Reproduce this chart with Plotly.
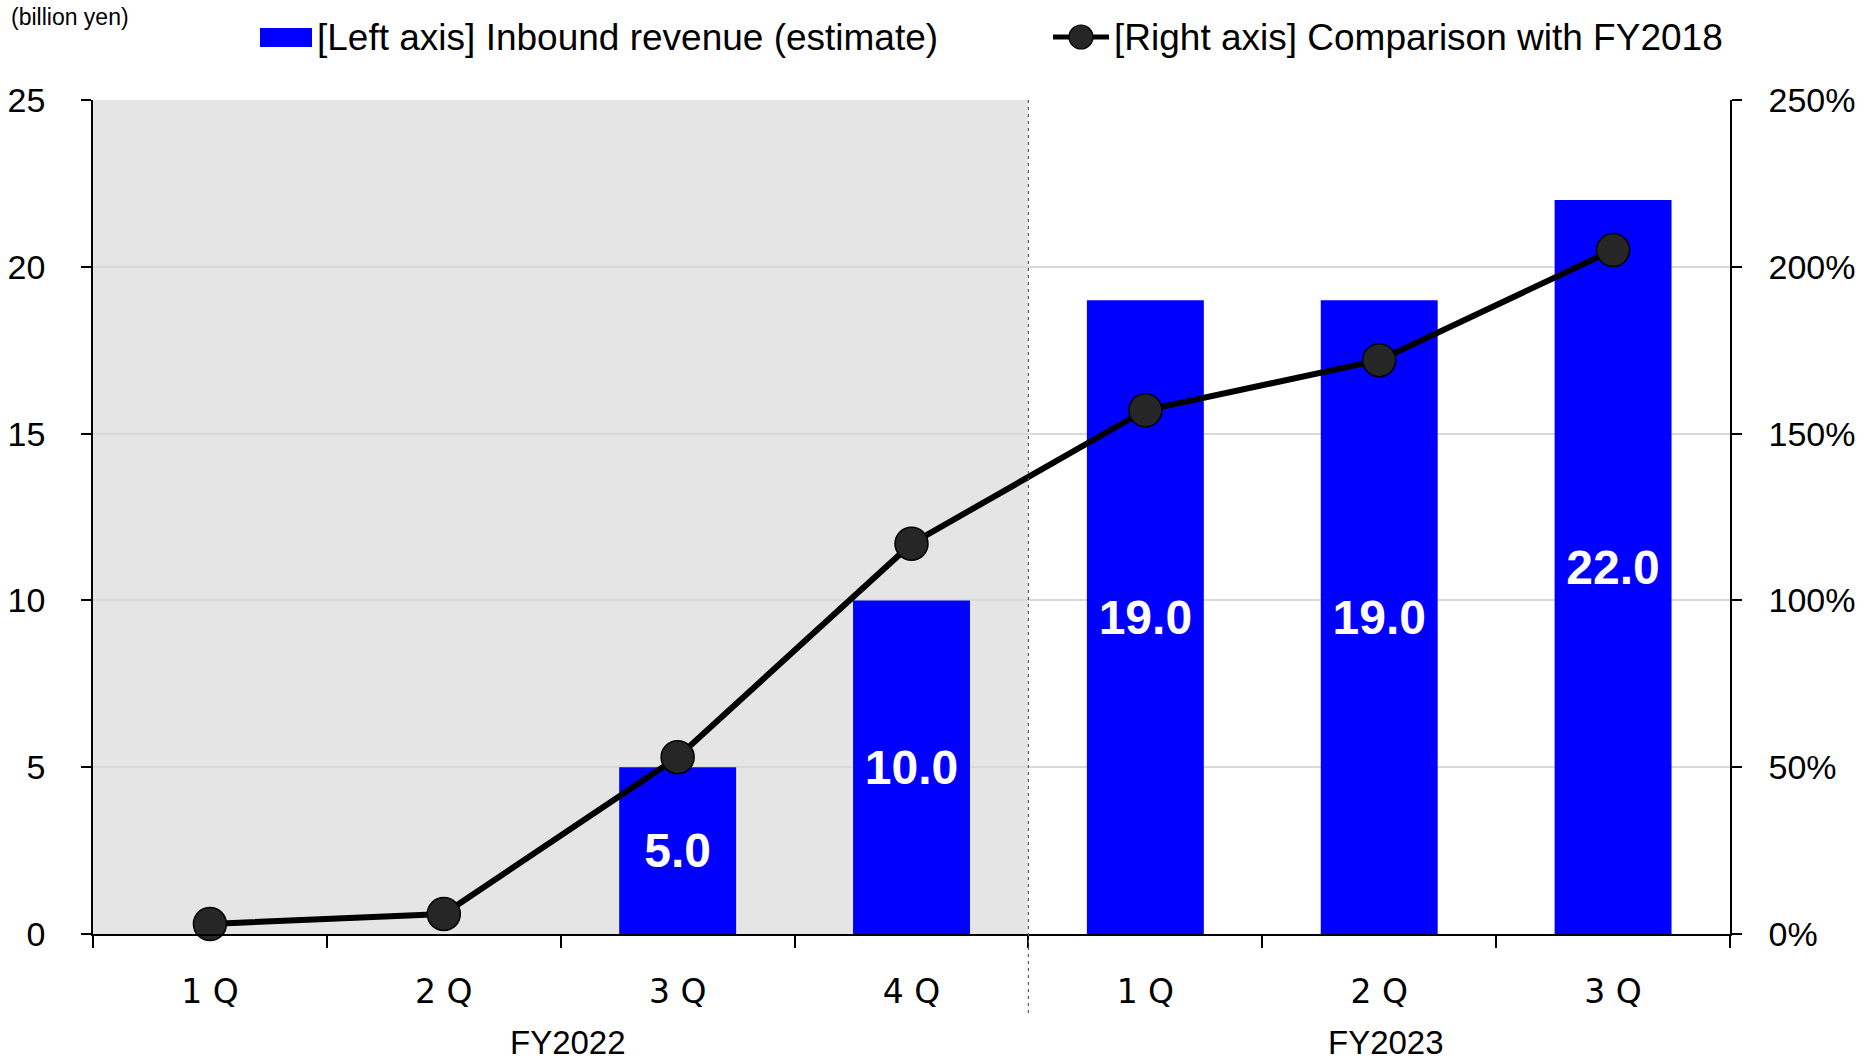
import plotly.graph_objects as go

# Quarterly data
quarters = ["1 Q", "2 Q", "3 Q", "4 Q", "1 Q", "2 Q", "3 Q"]
fiscal_years = ["FY2022", "FY2023"]
fy_spans = [(0, 3), (4, 6)]          # first/last quarter index of each fiscal year
revenue = [None, None, 5.0, 10.0, 19.0, 19.0, 22.0]     # billion yen (left axis)
vs_fy2018 = [3, 6, 53, 117, 157, 172, 205]               # % of FY2018 (right axis)

bar_name = "[Left axis] Inbound revenue (estimate)"
line_name = "[Right axis] Comparison with FY2018"
unit_label = "(billion yen)"

W, H = 1864, 1061
ML, MR, MT, MB = 93, 134, 100, 127
PW, PH = W - ML - MR, H - MT - MB

BLUE = "#0000FF"
FONT = "Liberation Sans, Arial, sans-serif"


def fx(px):
    return (px - ML) / PW


def fy(py):
    return (H - MB - py) / PH


x = list(range(len(quarters)))

fig = go.Figure()
fig.add_trace(go.Bar(
    x=x, y=revenue, name=bar_name, marker=dict(color=BLUE, line=dict(width=0)),
    text=[f"{v:.1f}" if v else "" for v in revenue],
    textposition="inside", insidetextanchor="middle", textangle=0,
    textfont=dict(family=FONT, size=48, color="white", weight="bold"),
    constraintext="none", cliponaxis=False, showlegend=False,
))
fig.add_trace(go.Scatter(
    x=x, y=vs_fy2018, name=line_name, yaxis="y2", mode="lines+markers",
    line=dict(color="black", width=6),
    marker=dict(size=33, color="#262626", line=dict(color="black", width=1.5)),
    cliponaxis=False, showlegend=False,
))

shapes = [
    # shaded FY2022 period
    dict(type="rect", xref="x", yref="paper", x0=-0.5, x1=3.5, y0=0, y1=1,
         fillcolor="#E5E5E5", line=dict(width=0), layer="below"),
    # divider between fiscal years
    dict(type="line", xref="x", yref="paper", x0=3.5, x1=3.5, y0=fy(1013), y1=1,
         line=dict(color="#595959", width=1.2, dash="3px,4px"), layer="above"),
    # legend swatches
    dict(type="rect", xref="paper", yref="paper", x0=fx(260), x1=fx(312),
         y0=fy(47), y1=fy(28), fillcolor=BLUE, line=dict(width=0)),
    dict(type="line", xref="paper", yref="paper", x0=fx(1053), x1=fx(1109),
         y0=fy(37), y1=fy(37), line=dict(color="black", width=5)),
    dict(type="circle", xref="paper", yref="paper", x0=fx(1069), x1=fx(1093),
         y0=fy(49), y1=fy(25), fillcolor="#262626", line=dict(color="black", width=1.2)),
]

annotations = [
    dict(text=bar_name, xref="paper", yref="paper", x=fx(315), y=fy(37),
         xanchor="left", yanchor="middle", showarrow=False,
         font=dict(family=FONT, size=37, color="black")),
    dict(text=line_name, xref="paper", yref="paper", x=fx(1112), y=fy(37),
         xanchor="left", yanchor="middle", showarrow=False,
         font=dict(family=FONT, size=37, color="black")),
    dict(text=unit_label, xref="paper", yref="paper", x=fx(9), y=fy(17),
         xanchor="left", yanchor="middle", showarrow=False,
         font=dict(family=FONT, size=23, color="black")),
]
for name, (a, b) in zip(fiscal_years, fy_spans):
    annotations.append(dict(
        text=name, xref="x", yref="paper", x=(a + b) / 2, y=fy(1042),
        xanchor="center", yanchor="middle", xshift=7, showarrow=False,
        font=dict(family=FONT, size=33, color="black")))

fig.update_layout(
    width=W, height=H,
    margin=dict(l=ML, r=MR, t=MT, b=MB, pad=0, autoexpand=False),
    paper_bgcolor="white", plot_bgcolor="white",
    bargap=0.5, showlegend=False,
    shapes=shapes, annotations=annotations,
    xaxis=dict(
        range=[-0.5, 6.5], tickmode="array", tickvals=x, ticktext=quarters,
        ticks="", showgrid=False, zeroline=False, automargin=False,
        showline=True, linecolor="black", linewidth=2,
        tickfont=dict(family="DejaVu Sans, Verdana, sans-serif", size=33, color="black"),
        ticklabelstandoff=27,
        minor=dict(tick0=-0.5, dtick=1, ticks="outside", ticklen=12,
                   tickcolor="black", tickwidth=1.5, showgrid=False),
    ),
    yaxis=dict(
        range=[0, 25], dtick=5, showgrid=True, gridcolor="#D9D9D9", gridwidth=1.5,
        zeroline=False, showline=True, linecolor="black", linewidth=1.5,
        ticks="outside", ticklen=10, tickcolor="black", tickwidth=1.5,
        tickfont=dict(family=FONT, size=34, color="black"),
        ticklabelstandoff=29, automargin=False,
    ),
    yaxis2=dict(
        range=[0, 250], dtick=50, ticksuffix="%", overlaying="y", side="right",
        showgrid=False, zeroline=False, showline=True, linecolor="black", linewidth=1.5,
        ticks="outside", ticklen=10, tickcolor="black", tickwidth=1.5,
        tickfont=dict(family=FONT, size=34, color="black"),
        ticklabelstandoff=20, automargin=False,
    ),
)

fig.write_html("out.html")
